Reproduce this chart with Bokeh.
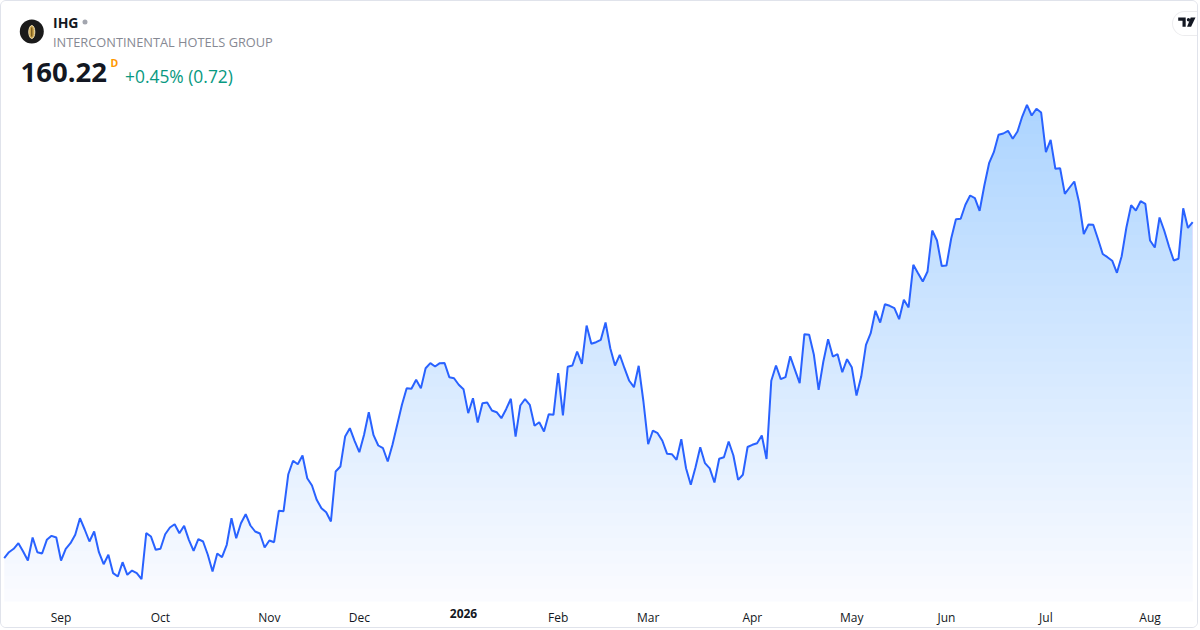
import numpy as np
from bokeh.plotting import figure
from bokeh.models import Label, FixedTicker, Range1d, BoxAnnotation, PolyAnnotation, ColumnDataSource
from bokeh.core.properties import value
from bokeh.embed import file_html
from bokeh.resources import INLINE

# ---------------- data ----------------
SYMBOL = "IHG"
COMPANY = "INTERCONTINENTAL HOTELS GROUP"
LAST_PRICE = "160.22"
INTERVAL = "D"
CHANGE_TEXT = "+0.45% (0.72)"

# daily closes, 14 Aug 2025 .. 14 Aug 2026 (trading days)
CLOSES = [
    118.22, 118.97, 119.40, 120.10, 119.06, 117.93, 120.81, 118.97, 118.81, 120.52,
    121.02, 120.81, 117.93, 119.40, 120.10, 121.15, 123.22, 121.81, 120.31, 121.56,
    118.97, 117.47, 118.65, 116.35, 115.93, 117.72, 116.15, 116.68, 116.35, 115.60,
    121.35, 120.93, 119.27, 119.40, 121.22, 122.06, 122.47, 121.35, 122.27, 120.52,
    119.15, 120.62, 120.31, 118.65, 116.56, 118.81, 118.35, 119.90, 123.22, 120.72,
    122.60, 123.72, 122.31, 121.56, 121.31, 119.56, 120.43, 120.22, 124.15, 124.10,
    128.72, 130.40, 129.97, 131.06, 128.22, 127.31, 125.52, 124.47, 123.97, 122.81,
    129.06, 129.68, 133.43, 134.47, 132.90, 131.47, 133.65, 136.47, 133.60, 132.31,
    131.97, 130.31, 132.40, 134.90, 137.40, 139.47, 139.40, 140.52, 139.45, 141.97,
    142.60, 142.18, 142.60, 142.62, 140.85, 140.72, 139.90, 139.35, 136.35, 138.22,
    135.18, 137.60, 137.68, 136.68, 136.47, 135.72, 136.85, 138.15, 133.43, 137.31,
    138.12, 137.40, 134.77, 135.22, 134.06, 136.22, 136.15, 141.35, 136.06, 142.15,
    142.31, 144.06, 142.52, 147.31, 145.02, 145.22, 145.52, 147.68, 144.47, 142.30,
    143.65, 141.97, 140.40, 139.60, 142.27, 137.81, 132.47, 134.18, 133.85, 132.90,
    131.27, 131.22, 130.52, 133.10, 129.47, 127.40, 129.60, 132.10, 130.10, 129.45,
    127.68, 130.65, 130.85, 132.81, 131.06, 128.02, 128.65, 132.12, 132.40, 132.60,
    133.56, 130.62, 140.40, 142.31, 140.60, 140.85, 143.47, 141.77, 140.10, 146.22,
    146.15, 143.65, 139.27, 142.81, 145.60, 143.43, 143.72, 141.47, 143.10, 142.10,
    138.56, 140.93, 144.90, 146.35, 149.15, 147.68, 149.97, 149.77, 149.47, 148.10,
    150.52, 149.56, 154.90, 153.85, 152.81, 154.06, 159.18, 157.93, 154.75, 154.81,
    158.18, 160.60, 160.65, 162.40, 163.56, 163.22, 161.65, 164.81, 167.60, 168.97,
    171.15, 171.31, 171.65, 170.65, 171.56, 173.43, 174.90, 173.56, 174.40, 173.93,
    168.97, 170.52, 166.90, 166.97, 163.77, 164.56, 165.31, 162.72, 158.75, 159.93,
    159.90, 158.12, 156.25, 155.85, 155.41, 153.90, 155.97, 159.56, 162.35, 161.68,
    162.85, 162.52, 157.93, 157.06, 160.81, 159.15, 157.18, 155.43, 155.65, 161.97,
    159.50, 160.22,
]

# bar index of the first trading day of each month, and its label
TICK_INDEX = [12, 33, 56, 75, 97, 117, 136, 158, 179, 199, 220, 242]
TICK_LABELS = ["Sep", "Oct", "Nov", "Dec", "2026", "Feb", "Mar", "Apr", "May", "Jun", "Jul", "Aug"]
YEAR_LABEL = "2026"

# ---------------- layout helpers ----------------
W, H = 1198, 628
PANE_H = 600
STANDOFF = 7
FONT = "Open Sans"
BLUE = "#2962ff"
INK = "#131722"

BAR_PX, BAR0_PX = 4.735, 2.7
Y_TOP, PX_PER_UNIT = 187.81, 8.0


def rx(px):
    return (px - BAR0_PX) / BAR_PX


def ry(py):
    return Y_TOP - py / PX_PER_UNIT


x_range = Range1d(rx(0), rx(W))
y_range = Range1d(ry(H), ry(0))

p = figure(width=W, height=H, x_range=x_range, y_range=y_range,
           output_backend="svg", toolbar_location=None, y_axis_location=None,
           min_border_left=0, min_border_right=0, min_border_top=0, min_border_bottom=0)
p.grid.visible = False
p.outline_line_color = None
p.background_fill_color = "white"
p.border_fill_color = "white"
p.styles = {"border": "1px solid #e0e3eb", "border-radius": "6px", "overflow": "hidden"}

x = np.arange(len(CLOSES), dtype=float)
y = np.array(CLOSES, dtype=float)
y0 = ry(PANE_H)


def clip_above(xv, yv, level):
    xs, ys = [], []
    for i in range(len(xv)):
        if i > 0:
            a, b = yv[i - 1] - level, yv[i] - level
            if a * b < 0:
                t = a / (a - b)
                xs.append(xv[i - 1] + t * (xv[i] - xv[i - 1]))
                ys.append(level)
        xs.append(xv[i])
        ys.append(max(yv[i], level))
    return np.array(xs), np.array(ys)


# gradient area: faint base + stacked translucent layers above rising levels
p.varea(x=x, y1=np.full_like(y, y0), y2=y, fill_color=BLUE, fill_alpha=0.025)
levels = np.linspace(y0, 176.0, 41)[1:-1]
for L in levels:
    xs, ys = clip_above(x, y, L)
    p.varea(x=xs, y1=np.full_like(ys, L), y2=ys, fill_color=BLUE, fill_alpha=0.0064)

src = ColumnDataSource(dict(x=x, close=y))
p.line("x", "close", source=src, line_color=BLUE, line_width=2)

# ---------------- x axis (time scale), drawn at the pane bottom ----------------
ax = p.xaxis[0]
ax.fixed_location = y0
ax.ticker = FixedTicker(ticks=TICK_INDEX)
ax.major_label_overrides = {i: ("" if lab == YEAR_LABEL else lab) for i, lab in zip(TICK_INDEX, TICK_LABELS)}
ax.axis_line_color = None
ax.major_tick_line_color = None
ax.minor_tick_line_color = None
ax.major_tick_out = 0
ax.major_tick_in = 0
ax.major_label_standoff = STANDOFF
ax.major_label_text_font = FONT
ax.major_label_text_font_size = "12px"
ax.major_label_text_color = INK

for i, lab in zip(TICK_INDEX, TICK_LABELS):
    if lab == YEAR_LABEL:
        p.add_layout(Label(x=i, y=ry(PANE_H + STANDOFF), text=lab, text_align="center",
                           text_baseline="top", text_font=FONT, text_font_size="12px",
                           text_font_style="bold", text_color=INK))

# ---------------- header ----------------
p.scatter([rx(30.3)], [ry(30)], size=24, marker="circle", fill_color="#1a1a1a", line_color=None)
p.ellipse([rx(30.3)], [ry(30.5)], width=6, height=13, width_units="screen", height_units="screen",
          fill_color="#c9a24a", line_color="#f3e3b5", line_width=1)
p.segment([rx(30.3)], [ry(26)], [rx(30.3)], [ry(35)], line_color="#5a4210", line_width=1)

p.add_layout(Label(x=rx(51.5), y=ry(20.5), text=SYMBOL, text_baseline="middle", text_font=FONT,
                   text_font_size="14px", text_font_style="bold", text_color=INK))
p.scatter([rx(83.5)], [ry(20.5)], size=5, marker="circle", fill_color="#a3a6af", line_color=None)
p.add_layout(Label(x=rx(51.5), y=ry(40), text=COMPANY, text_baseline="middle", text_font=FONT,
                   text_font_size="12.8px", text_color="#868993"))
p.add_layout(Label(x=rx(19), y=ry(71), text=LAST_PRICE, text_baseline="middle", text_font=FONT,
                   text_font_size="27.5px", text_font_style="bold", text_color=INK))
p.add_layout(Label(x=rx(109), y=ry(61.5), text=INTERVAL, text_baseline="middle", text_font=FONT,
                   text_font_size="10.5px", text_font_style="bold", text_color="#ff9800"))
p.add_layout(Label(x=rx(123.5), y=ry(74.5), text=CHANGE_TEXT, text_baseline="middle", text_font=FONT,
                   text_font_size="17.4px", text_color="#089981"))

# ---------------- TradingView badge ----------------
p.add_layout(BoxAnnotation(left=rx(1170.5), right=rx(1216), top=ry(9.5), bottom=ry(34.5),
                           fill_color="#9598a1", fill_alpha=0.18, line_color=None,
                           border_radius=13))
p.add_layout(BoxAnnotation(left=rx(1171.5), right=rx(1215), top=ry(10.5), bottom=ry(33.5),
                           fill_color="white", fill_alpha=1, line_color=None,
                           border_radius=12))
p.add_layout(PolyAnnotation(xs=[rx(1176.7), rx(1184.2), rx(1184.2), rx(1181), rx(1181), rx(1176.7)],
                            ys=[ry(16), ry(16), ry(25.3), ry(25.3), ry(19.3), ry(19.3)],
                            fill_color=INK, fill_alpha=1, line_color=None))
p.add_layout(BoxAnnotation(left=rx(1185.3), right=rx(1188.6), top=ry(16.6), bottom=ry(19.9),
                           fill_color=INK, fill_alpha=1, line_color=None, border_radius=2))
p.add_layout(PolyAnnotation(xs=[rx(1189.2), rx(1194), rx(1189.6), rx(1185.6)],
                            ys=[ry(16), ry(16), ry(25.3), ry(25.3)],
                            fill_color=INK, fill_alpha=1, line_color=None))

open("out.html", "w").write(file_html(p, INLINE))
